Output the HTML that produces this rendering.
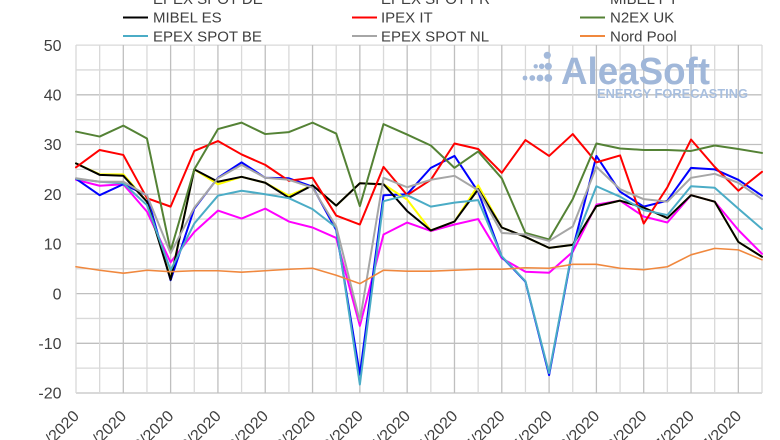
<!DOCTYPE html>
<html>
<head>
<meta charset="utf-8">
<style>
html,body{margin:0;padding:0;background:#fff;width:780px;height:440px;overflow:hidden;}
svg{display:block;}
text{font-family:"Liberation Sans",Arial,sans-serif;fill:#404040;}
</style>
</head>
<body>
<svg width="780" height="440" viewBox="0 0 780 440" xmlns="http://www.w3.org/2000/svg" overflow="hidden">
<defs>
<clipPath id="frame"><rect x="0" y="0" width="780" height="440"/></clipPath>
</defs>
<rect x="0" y="0" width="780" height="440" fill="#fff"/>

<!-- horizontal gridlines -->
<g stroke-width="1.3">
<line x1="76" x2="762" y1="45.1" y2="45.1" stroke="#d9d9d9"/>
<line x1="76" x2="762" y1="69.95" y2="69.95" stroke="#d9d9d9"/>
<line x1="76" x2="762" y1="94.8" y2="94.8" stroke="#bfbfbf"/>
<line x1="76" x2="762" y1="119.65" y2="119.65" stroke="#d9d9d9"/>
<line x1="76" x2="762" y1="144.5" y2="144.5" stroke="#bfbfbf"/>
<line x1="76" x2="762" y1="169.35" y2="169.35" stroke="#d9d9d9"/>
<line x1="76" x2="762" y1="194.2" y2="194.2" stroke="#bfbfbf"/>
<line x1="76" x2="762" y1="219.05" y2="219.05" stroke="#d9d9d9"/>
<line x1="76" x2="762" y1="243.9" y2="243.9" stroke="#bfbfbf"/>
<line x1="76" x2="762" y1="268.75" y2="268.75" stroke="#d9d9d9"/>
<line x1="76" x2="762" y1="293.6" y2="293.6" stroke="#bfbfbf"/>
<line x1="76" x2="762" y1="318.45" y2="318.45" stroke="#d9d9d9"/>
<line x1="76" x2="762" y1="343.3" y2="343.3" stroke="#bfbfbf"/>
<line x1="76" x2="762" y1="368.15" y2="368.15" stroke="#d9d9d9"/>
<line x1="76" x2="762" y1="393" y2="393" stroke="#d9d9d9" stroke-width="2"/>
</g>

<!-- vertical gridlines -->
<g stroke-width="1.3">
<line y1="45" y2="393" x1="76" x2="76" stroke="#d9d9d9"/>
<line y1="45" y2="393" x1="99.66" x2="99.66" stroke="#d9d9d9"/>
<line y1="45" y2="393" x1="123.31" x2="123.31" stroke="#bfbfbf"/>
<line y1="45" y2="393" x1="146.97" x2="146.97" stroke="#d9d9d9"/>
<line y1="45" y2="393" x1="170.62" x2="170.62" stroke="#bfbfbf"/>
<line y1="45" y2="393" x1="194.28" x2="194.28" stroke="#d9d9d9"/>
<line y1="45" y2="393" x1="217.93" x2="217.93" stroke="#bfbfbf"/>
<line y1="45" y2="393" x1="241.59" x2="241.59" stroke="#d9d9d9"/>
<line y1="45" y2="393" x1="265.24" x2="265.24" stroke="#bfbfbf"/>
<line y1="45" y2="393" x1="288.9" x2="288.9" stroke="#d9d9d9"/>
<line y1="45" y2="393" x1="312.55" x2="312.55" stroke="#bfbfbf"/>
<line y1="45" y2="393" x1="336.21" x2="336.21" stroke="#d9d9d9"/>
<line y1="45" y2="393" x1="359.86" x2="359.86" stroke="#bfbfbf"/>
<line y1="45" y2="393" x1="383.52" x2="383.52" stroke="#d9d9d9"/>
<line y1="45" y2="393" x1="407.17" x2="407.17" stroke="#bfbfbf"/>
<line y1="45" y2="393" x1="430.83" x2="430.83" stroke="#d9d9d9"/>
<line y1="45" y2="393" x1="454.48" x2="454.48" stroke="#bfbfbf"/>
<line y1="45" y2="393" x1="478.14" x2="478.14" stroke="#d9d9d9"/>
<line y1="45" y2="393" x1="501.79" x2="501.79" stroke="#bfbfbf"/>
<line y1="45" y2="393" x1="525.45" x2="525.45" stroke="#d9d9d9"/>
<line y1="45" y2="393" x1="549.1" x2="549.1" stroke="#bfbfbf"/>
<line y1="45" y2="393" x1="572.76" x2="572.76" stroke="#d9d9d9"/>
<line y1="45" y2="393" x1="596.41" x2="596.41" stroke="#bfbfbf"/>
<line y1="45" y2="393" x1="620.07" x2="620.07" stroke="#d9d9d9"/>
<line y1="45" y2="393" x1="643.72" x2="643.72" stroke="#bfbfbf"/>
<line y1="45" y2="393" x1="667.38" x2="667.38" stroke="#d9d9d9"/>
<line y1="45" y2="393" x1="691.03" x2="691.03" stroke="#bfbfbf"/>
<line y1="45" y2="393" x1="714.69" x2="714.69" stroke="#d9d9d9"/>
<line y1="45" y2="393" x1="738.34" x2="738.34" stroke="#bfbfbf"/>
<line y1="45" y2="393" x1="762" x2="762" stroke="#d9d9d9"/>
</g>

<!-- logo -->
<g fill="#a3b9da">
<circle cx="547.3" cy="55.3" r="3.6"/>
<circle cx="535.7" cy="66.3" r="2.2"/>
<circle cx="541.7" cy="66.3" r="2.8"/>
<circle cx="548.3" cy="66.3" r="3.6"/>
<circle cx="525" cy="78" r="2.4"/>
<circle cx="532.3" cy="78" r="2.9"/>
<circle cx="540" cy="78" r="3.4"/>
<circle cx="548.3" cy="78" r="3.9"/>
<text x="561" y="84" font-size="38" font-weight="bold" textLength="149" lengthAdjust="spacingAndGlyphs" style="fill:#a0b7d9">AleaSoft</text>
<text x="597" y="98" font-size="13" font-weight="bold" textLength="151" lengthAdjust="spacingAndGlyphs" style="fill:#a8bfdf">ENERGY FORECASTING</text>
</g>

<!-- series -->
<g transform="translate(76 293.6) scale(23.655 -4.97)" fill="none" stroke-linejoin="round" stroke-linecap="round">
<polyline vector-effect="non-scaling-stroke" stroke="#ff00ff" stroke-width="2" points="0,22.9 1,21.7 2,22 3,16.5 4,6.3 5,12.4 6,16.7 7,15.1 8,17.1 9,14.5 10,13.3 11,11.2 12,-6.5 13,11.9 14,14.3 15,12.6 16,13.9 17,15 18,7.1 19,4.4 20,4.2 21,8.4 22,17.9 23,18.7 24,15.5 25,14.3 26,19.8 27,18.5 28,12.8 29,8"/>
<polyline vector-effect="non-scaling-stroke" stroke="#0000ff" stroke-width="2" points="0,23.1 1,19.8 2,22 3,19.8 4,2.7 5,17.1 6,23.3 7,26.4 8,23.3 9,23.2 10,21.5 11,12.8 12,-16.3 13,19.8 14,20 15,25.3 16,27.7 17,20.5 18,7.4 19,2.4 20,-16.4 21,9 22,27.7 23,20.5 24,17.5 25,18.7 26,25.3 27,25 28,22.9 29,19.7"/>
<polyline vector-effect="non-scaling-stroke" stroke="#ffff00" stroke-width="2" points="0,26.2 1,24 2,24 3,18.5 4,3 5,25 6,22 7,23.5 8,22.3 9,19.7 10,21.8 11,17.7 12,22.2 13,22 14,18.9 15,12.7 16,14.5 17,21.8 18,13.3 19,11.4 20,9.2 21,9.8 22,17.6 23,18.7 24,17.3 25,15.2 26,19.8 27,18.5 28,10.4 29,7.4"/>
<polyline vector-effect="non-scaling-stroke" stroke="#000000" stroke-width="2" points="0,26.2 1,23.9 2,23.7 3,18.5 4,2.8 5,25 6,22.5 7,23.5 8,22.3 9,19.3 10,21.8 11,17.7 12,22.2 13,22 14,16.6 15,12.7 16,14.5 17,21 18,13.3 19,11.4 20,9.2 21,9.8 22,17.6 23,18.7 24,17.3 25,15.2 26,19.8 27,18.5 28,10.4 29,7.4"/>
<polyline vector-effect="non-scaling-stroke" stroke="#ff0000" stroke-width="2" points="0,25.4 1,28.9 2,27.9 3,19.2 4,17.5 5,28.7 6,30.7 7,28 8,25.9 9,22.7 10,23.3 11,15.7 12,13.9 13,25.5 14,19.8 15,22.9 16,30.2 17,29.1 18,24.3 19,30.9 20,27.7 21,32.1 22,26.4 23,27.8 24,14.1 25,21.4 26,31 27,25.5 28,20.7 29,24.5"/>
<polyline vector-effect="non-scaling-stroke" stroke="#548235" stroke-width="2" points="0,32.6 1,31.6 2,33.8 3,31.2 4,8.6 5,25 6,33.1 7,34.4 8,32.1 9,32.5 10,34.4 11,32.2 12,17.6 13,34.1 14,32 15,29.8 16,25.3 17,28.6 18,23.2 19,12.2 20,10.9 21,19 22,30.2 23,29.2 24,28.9 25,28.9 26,28.7 27,29.8 28,29.1 29,28.3"/>
<polyline vector-effect="non-scaling-stroke" stroke="#4bacc6" stroke-width="2" points="0,23.1 1,22.5 2,22.2 3,17.8 4,4.7 5,14.1 6,19.7 7,20.7 8,20 9,19.2 10,17 11,13.3 12,-18.3 13,18.6 14,19.8 15,17.5 16,18.3 17,18.8 18,7.5 19,2.5 20,-16 21,9.3 22,21.6 23,19.5 24,16.8 25,15.8 26,21.6 27,21.3 28,17.1 29,13"/>
<polyline vector-effect="non-scaling-stroke" stroke="#a6a6a6" stroke-width="2" points="0,23.2 1,22.5 2,22.5 3,19.8 4,8.1 5,17.3 6,23.2 7,25.9 8,23.3 9,22.9 10,21.3 11,13.5 12,-5.5 13,23.3 14,21.4 15,22.9 16,23.7 17,20.8 18,12.2 19,11.9 20,10.6 21,13.5 22,25.5 23,21 24,19 25,18.5 26,23.3 27,24.1 28,22.3 29,19"/>
<polyline vector-effect="non-scaling-stroke" stroke="#f0883e" stroke-width="1.6" points="0,5.4 1,4.7 2,4.1 3,4.7 4,4.4 5,4.6 6,4.6 7,4.3 8,4.6 9,4.9 10,5.1 11,3.7 12,2 13,4.7 14,4.5 15,4.5 16,4.7 17,4.9 18,4.9 19,5.2 20,5.1 21,5.9 22,5.9 23,5.1 24,4.8 25,5.4 26,7.8 27,9.1 28,8.8 29,6.8"/>
</g>

<!-- y labels -->
<g font-size="16" text-anchor="end">
<text x="61.5" y="50.8">50</text>
<text x="61.5" y="100.5">40</text>
<text x="61.5" y="150.2">30</text>
<text x="61.5" y="199.9">20</text>
<text x="61.5" y="249.6">10</text>
<text x="61.5" y="299.3">0</text>
<text x="61.5" y="349">-10</text>
<text x="61.5" y="398.7">-20</text>
</g>

<!-- x labels -->
<g font-size="16" text-anchor="end" clip-path="url(#frame)">
<text transform="translate(80 417) rotate(-45)">06/01/2020</text>
<text transform="translate(127.3 417) rotate(-45)">20/01/2020</text>
<text transform="translate(174.6 417) rotate(-45)">03/02/2020</text>
<text transform="translate(221.9 417) rotate(-45)">17/02/2020</text>
<text transform="translate(269.2 417) rotate(-45)">02/03/2020</text>
<text transform="translate(316.6 417) rotate(-45)">16/03/2020</text>
<text transform="translate(363.9 417) rotate(-45)">30/03/2020</text>
<text transform="translate(411.2 417) rotate(-45)">13/04/2020</text>
<text transform="translate(458.5 417) rotate(-45)">27/04/2020</text>
<text transform="translate(505.8 417) rotate(-45)">11/05/2020</text>
<text transform="translate(553.1 417) rotate(-45)">25/05/2020</text>
<text transform="translate(600.4 417) rotate(-45)">08/06/2020</text>
<text transform="translate(647.7 417) rotate(-45)">22/06/2020</text>
<text transform="translate(695 417) rotate(-45)">06/07/2020</text>
<text transform="translate(742.3 417) rotate(-45)">20/07/2020</text>
</g>

<!-- legend -->
<g font-size="15">
<text x="153" y="4.2">EPEX SPOT DE</text>
<text x="381" y="4.2">EPEX SPOT FR</text>
<text x="610" y="4.2">MIBEL PT</text>
<line x1="123" x2="148" y1="17.5" y2="17.5" stroke="#000000" stroke-width="2"/>
<text x="153" y="22.7">MIBEL ES</text>
<line x1="352" x2="377" y1="17.5" y2="17.5" stroke="#ff0000" stroke-width="2"/>
<text x="381" y="22.7">IPEX IT</text>
<line x1="580" x2="605" y1="17.5" y2="17.5" stroke="#548235" stroke-width="2"/>
<text x="610" y="22.7">N2EX UK</text>
<line x1="123" x2="148" y1="36" y2="36" stroke="#4bacc6" stroke-width="2"/>
<text x="153" y="41.4">EPEX SPOT BE</text>
<line x1="352" x2="377" y1="36" y2="36" stroke="#a6a6a6" stroke-width="2"/>
<text x="381" y="41.4">EPEX SPOT NL</text>
<line x1="580" x2="605" y1="36" y2="36" stroke="#f0883e" stroke-width="2"/>
<text x="610" y="41.4">Nord Pool</text>
</g>
</svg>
</body>
</html>
